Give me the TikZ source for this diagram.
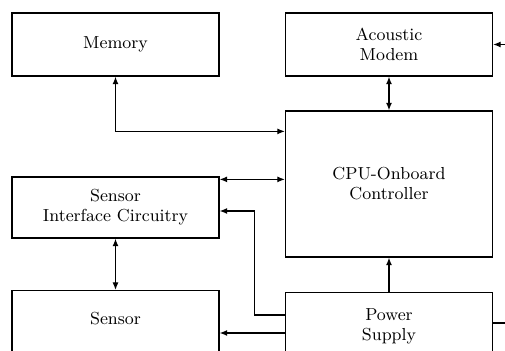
\documentclass[tikz,border=0pt]{standalone}
\usetikzlibrary{arrows.meta}
\tikzset{
  blockbox/.style={draw, line width=0.6pt, minimum width=103.5pt, align=center,
    font=\fontsize{8.7}{10}\selectfont, inner sep=2pt},
  link/.style={line width=0.6pt, >={Latex[length=3.8pt,width=3pt]}}
}
\begin{document}
\begin{tikzpicture}[x=0.5pt,y=-0.5pt]
  \useasboundingbox (0,0) rectangle (505,351);
  \clip (0,0) rectangle (505,351);
  % blocks
  \node[blockbox, minimum height=31.5pt] (memory) at (115.5,44.5) {Memory};
  \node[blockbox, minimum height=31.5pt] (modem) at (389,44.5) {Acoustic\\Modem};
  \node[blockbox, minimum height=73pt] (cpu) at (389,184) {CPU-Onboard\\Controller};
  \node[blockbox, minimum height=30.5pt] (interface) at (115.5,207.5) {Sensor\\Interface Circuitry};
  \node[blockbox, minimum height=34pt, text depth=6pt, anchor=north] (sensor) at (115.5,290) {Sensor};
  \node[blockbox, minimum height=34pt, anchor=north] (power) at (389,292) {Power\\Supply};
  % free ends at the edge
  \coordinate (modemin) at (505,44.5);
  \coordinate (powerout) at (505,323);
  \coordinate (ifport) at ([yshift=-1.5pt]interface.north east);
  \coordinate (senseport) at ([yshift=-20.5pt]power.north west);
  % links
  \draw[link,<->] (memory.south) |- ([yshift=-10.5pt]cpu.north west);
  \draw[link,<->] (modem) -- (cpu);
  \draw[link,<->] (ifport) -- (ifport -| cpu.west);
  \draw[link,<->] (interface) -- (sensor);
  \draw[link,->] (power) -- (cpu);
  \draw[link,->] (senseport) -- (senseport -| sensor.east);
  \draw[link,->] ([yshift=-11.5pt]power.north west) -| ([xshift=17.5pt,yshift=-1.75pt]interface.east) -- ([yshift=-1.75pt]interface.east);
  \draw[link,->] (modemin) -- (modem.east);
  \draw[link] (powerout) -- (powerout -| power.east);
\end{tikzpicture}
\end{document}
